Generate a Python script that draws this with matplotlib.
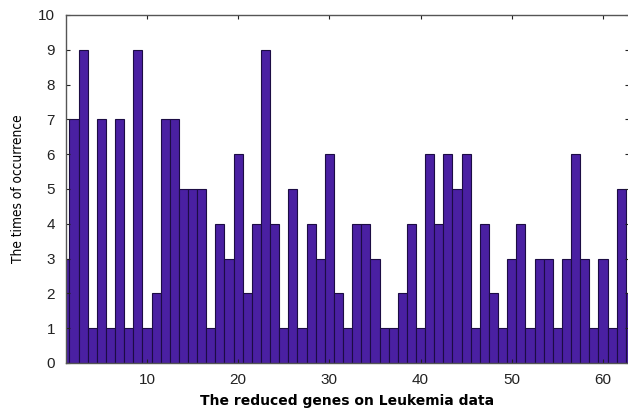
import matplotlib
matplotlib.use("Agg")
import matplotlib.pyplot as plt
import numpy as np

# gene index and how often each one was picked
genes = np.arange(1, 64)
occurrence = [3, 7, 9, 1, 7, 1, 7, 1, 9, 1,
              2, 7, 7, 5, 5, 5, 1, 4, 3, 6,
              2, 4, 9, 4, 1, 5, 1, 4, 3, 6,
              2, 1, 4, 4, 3, 1, 1, 2, 4, 1,
              6, 4, 6, 5, 6, 1, 4, 2, 1, 3,
              4, 1, 3, 3, 1, 3, 6, 3, 1, 3,
              1, 5, 2]
xtick_vals = [10, 20, 30, 40, 50, 60]
ytick_vals = list(range(0, 11))

fig = plt.figure(figsize=(6.28, 4.17), dpi=100)
ax = fig.add_axes([66 / 628, 54 / 417, 562.5 / 628, 348 / 417])

ax.bar(genes, occurrence, width=1.0, color='#4a20a2', edgecolor='#1c0c44', linewidth=0.8)

ax.set_xlim(1.12, 62.8)
ax.set_ylim(0, 10)
ax.set_xticks(xtick_vals)
ax.set_yticks(ytick_vals)
ax.tick_params(direction='in', top=True, right=True, length=3, labelsize=11, colors='#222222')
ax.tick_params(axis='x', pad=7)
ax.tick_params(axis='y', pad=8)
for lbl in ax.get_xticklabels() + ax.get_yticklabels():
    lbl.set_family('Liberation Sans')
for s in ax.spines.values():
    s.set_color('#555555')
    s.set_linewidth(1.0)

ax.set_xlabel('The reduced genes on Leukemia data', family='DejaVu Sans', fontsize=10,
              fontweight='bold', labelpad=5)
ax.set_ylabel('The times of occurrence', family='DejaVu Sans', fontstretch='condensed',
              fontsize=9.8, labelpad=9)

fig.savefig('out.png', dpi=100)
